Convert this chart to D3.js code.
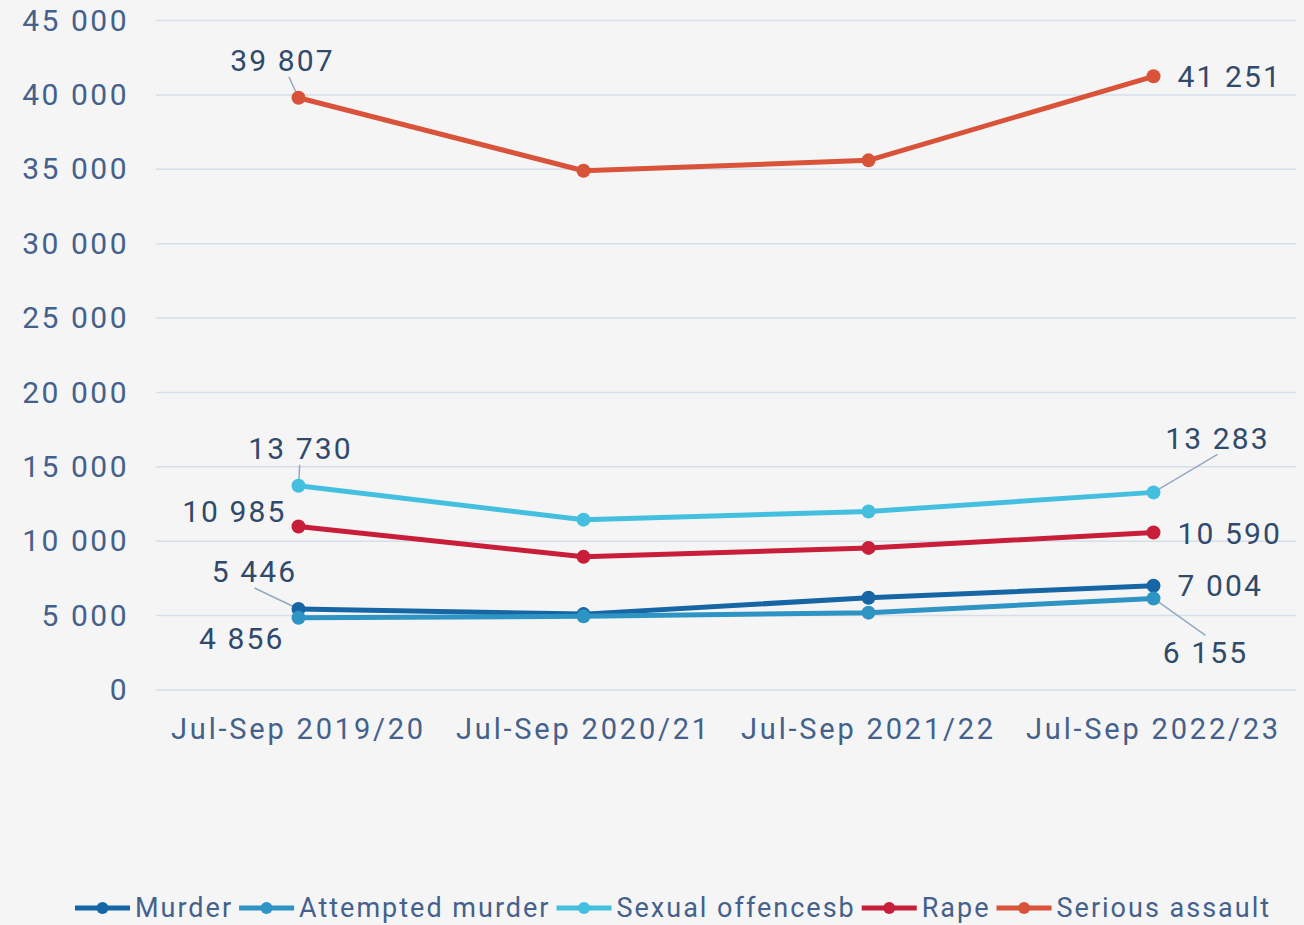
<!DOCTYPE html>
<html>
<head>
<meta charset="utf-8">
<script src="https://cdn.jsdelivr.net/npm/d3@7"></script>
<style>
  html, body { margin: 0; padding: 0; background: #f5f5f5; }
  svg { display: block; }
  text { font-family: Roboto, "Noto Sans", sans-serif; }
</style>
</head>
<body>
<svg id="chart" width="1304" height="925"></svg>
<script>
const categories = ["Jul-Sep 2019/20", "Jul-Sep 2020/21", "Jul-Sep 2021/22", "Jul-Sep 2022/23"];
const seriesNames = ["Murder", "Attempted murder", "Sexual offencesb", "Rape", "Serious assault"];
const murder = [5446, 5100, 6200, 7004];
const attemptedMurder = [4856, 4950, 5200, 6155];
const sexualOffences = [13730, 11450, 12000, 13283];
const rape = [10985, 8950, 9550, 10590];
const seriousAssault = [39807, 34900, 35600, 41251];
const yTicks = [0, 5000, 10000, 15000, 20000, 25000, 30000, 35000, 40000, 45000];
const colors = ["#1665a4", "#2e94c4", "#45bfdf", "#c81e3a", "#d9533a"];

const seriesValues = [murder, attemptedMurder, sexualOffences, rape, seriousAssault];

// labels shown at first and last points: [seriesIndex, pointIndex, dx, dy, anchor, leader]
const labelSpecs = [
  [4, 0, -16, -37, "middle", true],
  [4, 3, 24, 0, "start", false],
  [2, 0, 2, -37, "middle", true],
  [2, 3, 64, -54, "middle", true],
  [3, 0, -12, -15, "end", false],
  [3, 3, 24, 1, "start", false],
  [0, 0, -44, -37, "middle", true],
  [0, 3, 24, 0, "start", false],
  [1, 0, -14, 21, "end", false],
  [1, 3, 52, 54, "middle", true]
];

const svg = d3.select("#chart");
const W = 1304, H = 925;
const margin = { left: 156, right: 8, top: 20.5, bottom: 235 };

const x = d3.scaleBand().domain(categories).range([margin.left, W - margin.right]).padding(0);
const y = d3.scaleLinear().domain([0, 45000]).range([690, 20.5]);

const fmt = v => d3.format(",")(v).replace(/,/g, " ");

// gridlines
svg.append("g")
  .selectAll("line").data(yTicks).join("line")
  .attr("x1", margin.left).attr("x2", W - margin.right)
  .attr("y1", d => y(d)).attr("y2", d => y(d))
  .attr("stroke", "#d5deea").attr("stroke-width", 1.5);

// y axis labels
const yAxis = d3.axisLeft(y).tickValues(yTicks).tickFormat(fmt).tickSize(0).tickPadding(27);
const gy = svg.append("g").attr("transform", `translate(${margin.left},0)`).call(yAxis);
gy.select(".domain").remove();
gy.selectAll("text").attr("fill", "#44618b").attr("font-size", 30).attr("font-family", "Roboto, 'Noto Sans', sans-serif").attr("letter-spacing", 2.5);

// x axis labels
const xAxis = d3.axisBottom(x).tickSize(0).tickPadding(28);
const gx = svg.append("g").attr("transform", `translate(0,${y(0)})`).call(xAxis);
gx.select(".domain").remove();
gx.selectAll("text").attr("fill", "#44618b").attr("font-size", 29).attr("font-family", "Roboto, 'Noto Sans', sans-serif").attr("letter-spacing", 2.8);

const cx = c => x(c) + x.bandwidth() / 2;
const line = d3.line().x((d, i) => cx(categories[i])).y(d => y(d));

// leader lines
const leaderG = svg.append("g");

// series
seriesValues.forEach((vals, si) => {
  const g = svg.append("g");
  g.append("path").datum(vals).attr("d", line)
    .attr("fill", "none").attr("stroke", colors[si]).attr("stroke-width", 5).attr("stroke-linejoin", "round");
  g.selectAll("circle").data(vals).join("circle")
    .attr("cx", (d, i) => cx(categories[i])).attr("cy", d => y(d)).attr("r", 7)
    .attr("fill", colors[si]);
});

// labels
labelSpecs.forEach(([si, pi, dx, dy, anchor, leader]) => {
  const v = seriesValues[si][pi];
  const px = cx(categories[pi]), py = y(v);
  const tx = px + dx, ty = py + dy;
  if (leader) {
    const ly = dy < 0 ? ty + 16 : ty - 17;
    leaderG.append("line")
      .attr("x1", tx + (Math.abs(dx) > 30 ? 0 : -dx * 0.4)).attr("y1", ly)
      .attr("x2", px).attr("y2", py)
      .attr("stroke", "#95a8c4").attr("stroke-width", 1.5);
  }
  svg.append("text").attr("x", tx).attr("y", ty).attr("dy", "0.35em")
    .attr("text-anchor", anchor).attr("fill", "#2f4a6b").attr("font-size", 30).attr("letter-spacing", 2.1)
    .text(fmt(v));
});

// legend
const legend = svg.append("g").attr("transform", "translate(75,908)");
let lx = 0;
seriesNames.forEach((name, si) => {
  const g = legend.append("g").attr("transform", `translate(${lx},0)`);
  g.append("line").attr("x1", 0).attr("x2", 55).attr("y1", 0).attr("y2", 0)
    .attr("stroke", colors[si]).attr("stroke-width", 5);
  g.append("circle").attr("cx", 27.5).attr("cy", 0).attr("r", 6).attr("fill", colors[si]);
  const t = g.append("text").attr("x", 60).attr("y", 0).attr("dy", "0.35em")
    .attr("fill", "#44618b").attr("font-size", 27).attr("letter-spacing", 2.0).text(name);
  const w = t.node().getComputedTextLength();
  lx += 60 + w + 6;
});
</script>
</body>
</html>
